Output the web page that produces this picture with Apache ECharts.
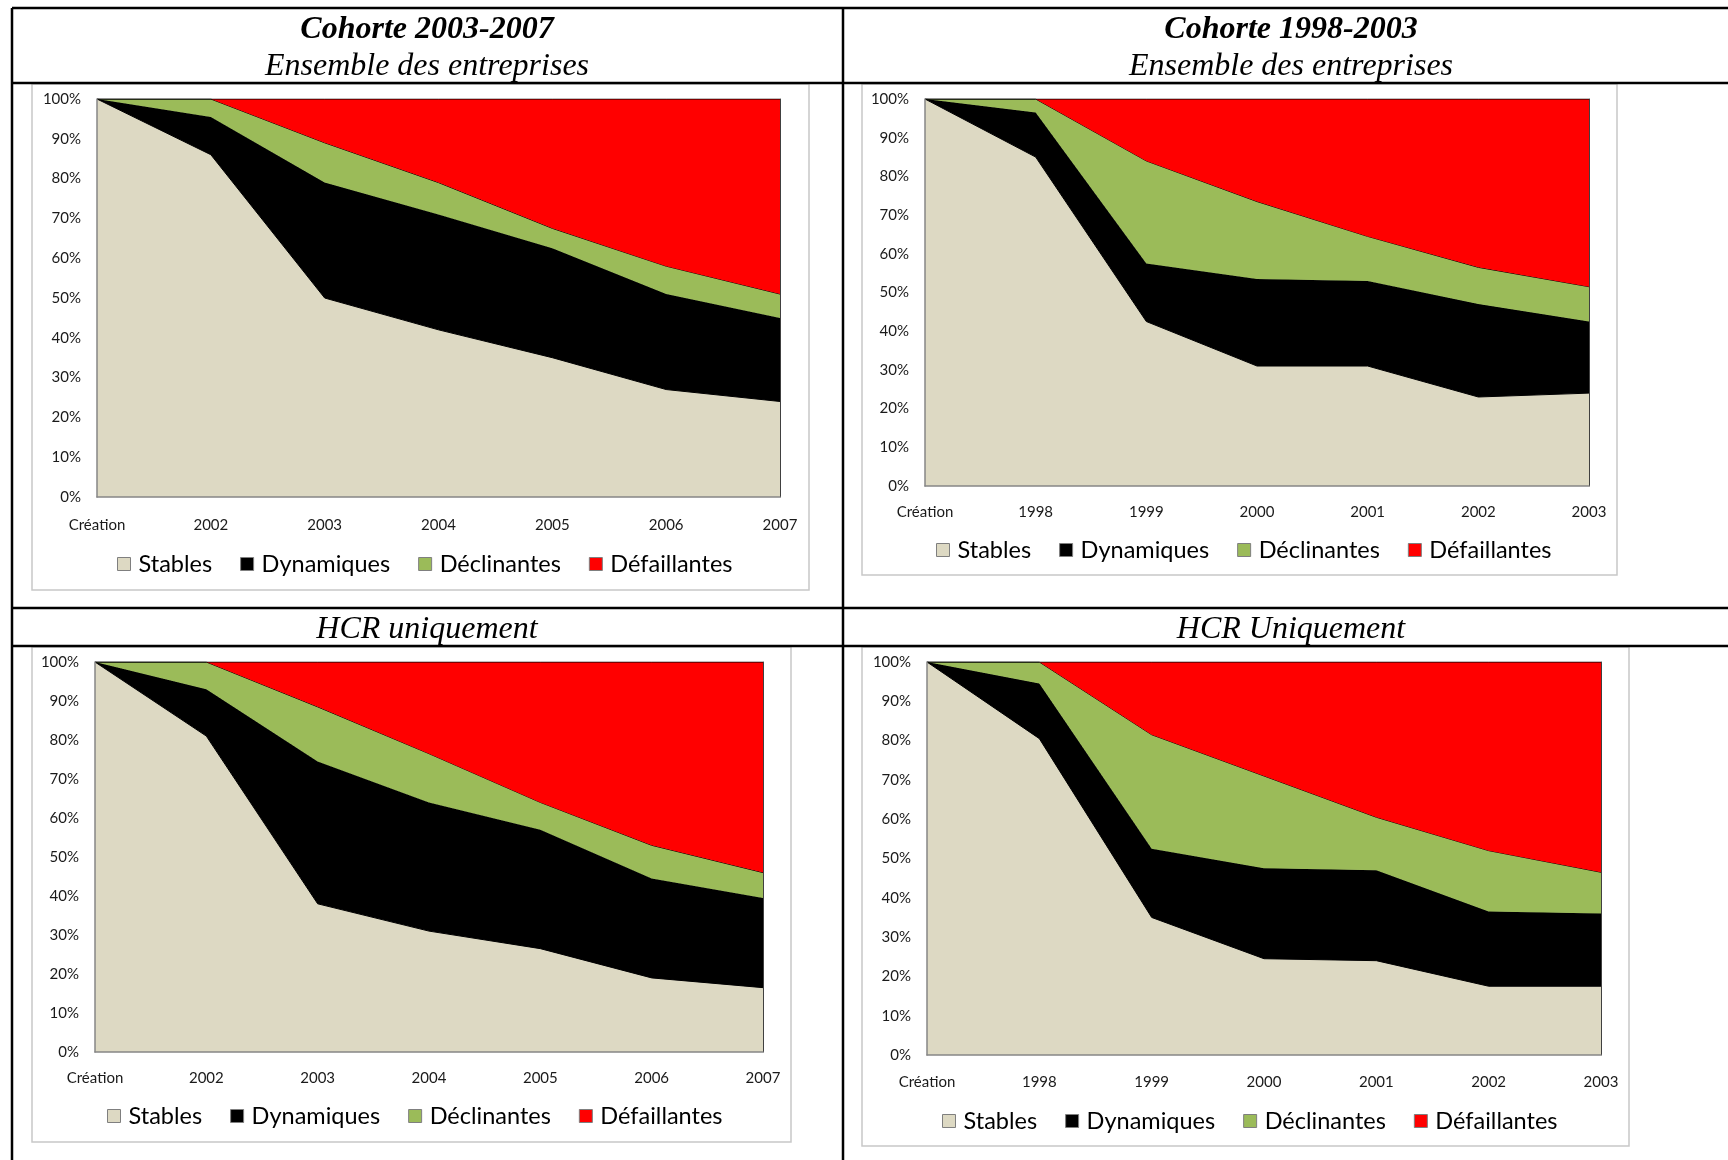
<!DOCTYPE html>
<html><head><meta charset="utf-8">
<script src="https://cdn.jsdelivr.net/npm/echarts@6/dist/echarts.min.js"></script>
<style>html,body{margin:0;padding:0;background:#fff}#c{width:1728px;height:1160px}</style>
</head><body><div id="c"></div>
<script>
// ---------- DATA ----------
const seriesNames = ['Stables', 'Dynamiques', 'Déclinantes', 'Défaillantes'];
const yTicks = ['0%','10%','20%','30%','40%','50%','60%','70%','80%','90%','100%'];

const categories0307 = ['Création', '2002', '2003', '2004', '2005', '2006', '2007'];
const categories9803 = ['Création', '1998', '1999', '2000', '2001', '2002', '2003'];

// Cohorte 2003-2007, ensemble des entreprises
const ens0307Stables      = [100, 86,   50,   42,   35,   27,   24];
const ens0307Dynamiques   = [0,   9.5,  29,   29,   27.5, 24,   21];
const ens0307Declinantes  = [0,   4.5,  10,   8,    5,    7,    6];
const ens0307Defaillantes = [0,   0,    11,   21,   32.5, 42,   49];

// Cohorte 1998-2003, ensemble des entreprises
const ens9803Stables      = [100, 85,   42.5, 31,   31,   23,   24];
const ens9803Dynamiques   = [0,   11.5, 15,   22.5, 22,   24,   18.5];
const ens9803Declinantes  = [0,   3.5,  26.5, 20,   11.5, 9.5,  9];
const ens9803Defaillantes = [0,   0,    16,   26.5, 35.5, 43.5, 48.5];

// Cohorte 2003-2007, HCR uniquement
const hcr0307Stables      = [100, 81,   38,   31,   26.5, 19,   16.5];
const hcr0307Dynamiques   = [0,   12,   36.5, 33,   30.5, 25.5, 23];
const hcr0307Declinantes  = [0,   7,    14,   12.5, 7,    8.5,  6.5];
const hcr0307Defaillantes = [0,   0,    11.5, 23.5, 36,   47,   54];

// Cohorte 1998-2003, HCR uniquement
const hcr9803Stables      = [100, 80.5, 35,   24.5, 24,   17.5, 17.5];
const hcr9803Dynamiques   = [0,   14,   17.5, 23,   23,   19,   18.5];
const hcr9803Declinantes  = [0,   5.5,  29,   23.5, 13.5, 15.5, 10.5];
const hcr9803Defaillantes = [0,   0,    18.5, 29,   39.5, 48,   53.5];

// ---------- STYLE / LAYOUT ----------
const colors = ['#DDD9C3', '#000000', '#9BBB59', '#FF0000'];
const sansFont = 'Lato';
const axisFontSize = 15;
const legendFontSize = 23.5;

const panels = [
  { cats: categories0307, data: [ens0307Stables, ens0307Dynamiques, ens0307Declinantes, ens0307Defaillantes],
    grid: {left: 97, top: 99, width: 683, height: 398}, box: [32, 84, 809, 590], legendCx: 424, legendCy: 564, xMargin: 21 },
  { cats: categories9803, data: [ens9803Stables, ens9803Dynamiques, ens9803Declinantes, ens9803Defaillantes],
    grid: {left: 925, top: 99, width: 664, height: 387}, box: [862, 84, 1617, 575], legendCx: 1243, legendCy: 550, xMargin: 19 },
  { cats: categories0307, data: [hcr0307Stables, hcr0307Dynamiques, hcr0307Declinantes, hcr0307Defaillantes],
    grid: {left: 95, top: 662, width: 668, height: 390}, box: [32, 647, 791, 1142], legendCx: 414, legendCy: 1116, xMargin: 19 },
  { cats: categories9803, data: [hcr9803Stables, hcr9803Dynamiques, hcr9803Declinantes, hcr9803Defaillantes],
    grid: {left: 927, top: 662, width: 674, height: 393}, box: [862, 647, 1629, 1146], legendCx: 1249, legendCy: 1121, xMargin: 20 }
];

// measure legend width for centering
const mctx = document.createElement('canvas').getContext('2d');
mctx.font = legendFontSize + 'px ' + sansFont;
const iconW = 13, iconTextGap = 5, textPadL = 3, itemGap = 28;
let legendW = 0;
seriesNames.forEach((n, i) => { legendW += iconW + iconTextGap + textPadL + mctx.measureText(n).width + (i < 3 ? itemGap : 0); });

const option = { animation: false, grid: [], xAxis: [], yAxis: [], series: [], legend: [], title: [], graphic: [] };

panels.forEach((p, pi) => {
  option.grid.push(Object.assign({ containLabel: false }, p.grid));
  option.xAxis.push({
    type: 'category', gridIndex: pi, data: p.cats, boundaryGap: false, z: 10,
    axisLine: { show: true, lineStyle: { color: '#868686', width: 1.5 } },
    axisTick: { show: false },
    axisLabel: { margin: p.xMargin, color: '#1a1a1a', fontFamily: sansFont, fontSize: axisFontSize, interval: 0 },
    splitLine: { show: false }
  });
  option.yAxis.push({
    type: 'value', gridIndex: pi, min: 0, max: 100, interval: 10, z: 10,
    axisLine: { show: true, lineStyle: { color: '#868686', width: 1.5 } },
    axisTick: { show: false },
    axisLabel: { margin: 16, color: '#1a1a1a', fontFamily: sansFont, fontSize: axisFontSize,
      formatter: v => yTicks[Math.round(v / 10)] },
    splitLine: { show: false }
  });
  option.yAxis.push({
    type: 'value', gridIndex: pi, min: 0, max: 100, interval: 10, position: 'right', z: 10,
    axisLine: { show: true, lineStyle: { color: '#404040', width: 1 } },
    axisTick: { show: false }, axisLabel: { show: false }, splitLine: { show: false }
  });
  seriesNames.forEach((name, si) => {
    option.series.push({
      name: name, type: 'line', xAxisIndex: pi, yAxisIndex: pi * 2, stack: 'p' + pi,
      data: p.data[si], showSymbol: false, symbol: 'none',
      lineStyle: { width: 1, color: '#000' },
      areaStyle: { color: colors[si], opacity: 1 },
      itemStyle: { color: colors[si], borderColor: '#7f7f7f', borderWidth: 1 },
      z: 2 + si
    });
  });
  option.legend.push({
    data: seriesNames.map(n => ({ name: n, icon: 'rect' })),
    left: Math.round(p.legendCx - legendW / 2), top: p.legendCy - 12,
    orient: 'horizontal', itemWidth: iconW, itemHeight: 13, itemGap: itemGap,
    padding: 0,
    itemStyle: { borderColor: '#7f7f7f', borderWidth: 1 },
    textStyle: { fontFamily: sansFont, fontSize: legendFontSize, color: '#000', padding: [0, 0, 0, textPadL] }
  });
  const b = p.box;
  option.graphic.push({ type: 'rect', shape: { x: b[0], y: b[1], width: b[2] - b[0], height: b[3] - b[1] },
    style: { fill: 'none', stroke: '#c8c8c8', lineWidth: 1.5 }, z: -1 });
});

// table rules
const tableLines = [
  [12, 8, 1728, 8], [12, 83, 1728, 83], [12, 608, 1728, 608], [12, 646, 1728, 646],
  [12, 8, 12, 1160], [843, 8, 843, 1160]
];
tableLines.forEach(l => option.graphic.push({ type: 'line', shape: { x1: l[0], y1: l[1], x2: l[2], y2: l[3] },
  style: { stroke: '#000', lineWidth: 2.5 }, z: 100 }));

// titles
const serif = 'Liberation Serif';
const titleSpecs = [
  { text: 'Cohorte 2003-2007', x: 427, y: 14, bold: true },
  { text: 'Ensemble des entreprises', x: 427, y: 51, bold: false },
  { text: 'Cohorte 1998-2003', x: 1291, y: 14, bold: true },
  { text: 'Ensemble des entreprises', x: 1291, y: 51, bold: false },
  { text: 'HCR uniquement', x: 427, y: 614, bold: false },
  { text: 'HCR Uniquement', x: 1291, y: 614, bold: false }
];
titleSpecs.forEach(t => option.title.push({
  text: t.text, left: t.x, top: t.y, textAlign: 'center', padding: 0,
  textStyle: { fontFamily: serif, fontStyle: 'italic', fontWeight: t.bold ? 'bold' : 'normal', fontSize: 32, color: '#000' }
}));

const chart = echarts.init(document.getElementById('c'), null, { renderer: 'canvas' });
chart.setOption(option);
</script>
</body></html>
